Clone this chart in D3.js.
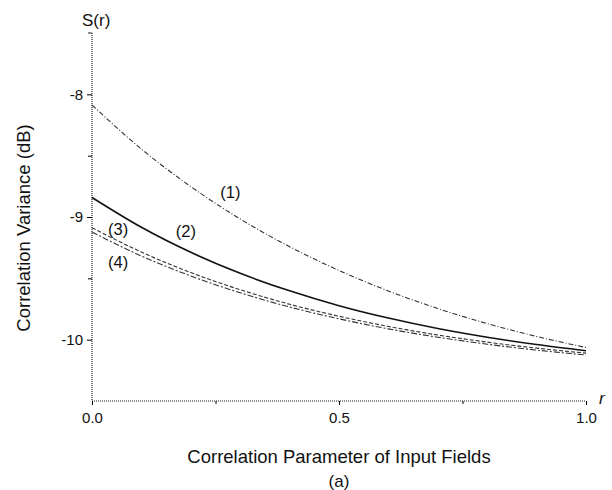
<!DOCTYPE html>
<html>
<head>
<meta charset="utf-8">
<script src="https://cdn.jsdelivr.net/npm/d3@7"></script>
<style>
  body { margin: 0; background: #fff; }
  text { font-family: "Liberation Sans", Arial, sans-serif; fill: #111; }
</style>
</head>
<body>
<div id="vis"></div>
<script>
// correlation variance vs correlation parameter
var rValues = [0, 0.1, 0.2, 0.3, 0.4, 0.5, 0.6, 0.7, 0.8, 0.9, 1.0];
var curve1 = [-8.087, -8.446, -8.752, -9.016, -9.242, -9.436, -9.603, -9.746, -9.869, -9.974, -10.064];
var curve2 = [-8.841, -9.084, -9.288, -9.459, -9.602, -9.723, -9.824, -9.909, -9.980, -10.040, -10.090];
var curve3 = [-9.087, -9.286, -9.453, -9.593, -9.711, -9.809, -9.892, -9.962, -10.020, -10.069, -10.110];
var curve4 = [-9.123, -9.318, -9.481, -9.618, -9.734, -9.830, -9.912, -9.980, -10.037, -10.085, -10.125];
var curveNames = ["(1)", "(2)", "(3)", "(4)"];
var xTicks = [0, 0.5, 1.0];
var xMinor = [0.25, 0.75];
var yTicks = [-8, -9, -10];
var yMinor = [-8.5, -9.5];

var width = 612;
var height = 490;

var svg = d3.select("#vis")
            .append("svg")
            .attr("width", width)
            .attr("height", height);

var x = d3.scaleLinear()
        .domain([0, 1])
        .range([92, 586]);

var y = d3.scaleLinear()
        .domain([-10.5, -7.5])
        .range([401, 33]);

// axes lines are dotted in the original
svg.append("line")
        .attr("x1", x(0)).attr("x2", x(0))
        .attr("y1", y(-7.5)).attr("y2", y(-10.5))
        .attr("stroke", "#222")
        .attr("stroke-width", 1.2)
        .attr("stroke-dasharray", "1,1");

svg.append("line")
        .attr("x1", x(0)).attr("x2", x(1))
        .attr("y1", y(-10.5)).attr("y2", y(-10.5))
        .attr("stroke", "#222")
        .attr("stroke-width", 1.2)
        .attr("stroke-dasharray", "1,1");

const xAxis = d3.axisBottom(x)
        .tickValues(xTicks)
        .tickFormat(d3.format(".1f"))
        .tickSize(4)
        .tickPadding(7);

var gx = svg.append("g")
        .attr("transform", `translate(0, ${y(-10.5)})`)
        .call(xAxis);
gx.select(".domain").remove();
gx.selectAll("text").style("font-size", "15px").attr("fill", "#111");

svg.append("g")
        .attr("transform", `translate(0, ${y(-10.5)})`)
        .call(d3.axisBottom(x).tickValues(xMinor).tickSize(3).tickFormat(""))
        .select(".domain").remove();

const yAxis = d3.axisLeft(y)
        .tickValues(yTicks)
        .tickFormat(function(d) { return String(d); })
        .tickSize(5)
        .tickPadding(4);

var gy = svg.append("g")
        .attr("transform", `translate(${x(0)}, 0)`)
        .call(yAxis);
gy.select(".domain").remove();
gy.selectAll("text").style("font-size", "15px").attr("fill", "#111");

svg.append("g")
        .attr("transform", `translate(${x(0)}, 0)`)
        .call(d3.axisLeft(y).tickValues(yMinor).tickSize(4).tickFormat(""))
        .select(".domain").remove();

// top end tick of y axis
svg.append("line")
        .attr("x1", x(0) - 4).attr("x2", x(0))
        .attr("y1", y(-7.5)).attr("y2", y(-7.5))
        .attr("stroke", "#222");

var line = d3.line()
        .x(function(d, i) { return x(rValues[i]); })
        .y(function(d) { return y(d); })
        .curve(d3.curveMonotoneX);

var series = [
  { values: curve1, dash: "5,2,1,2", w: 1.1, color: "#333" },
  { values: curve2, dash: null, w: 1.6, color: "#111" },
  { values: curve3, dash: "4,2", w: 1.1, color: "#333" },
  { values: curve4, dash: "6,2,2,2", w: 1.1, color: "#333" }
];

series.forEach(function(s) {
  svg.append("path")
        .datum(s.values)
        .attr("d", line)
        .attr("fill", "none")
        .attr("stroke", s.color)
        .attr("stroke-width", s.w)
        .attr("stroke-dasharray", s.dash);
});

// curve labels placed near their curves
var labelPos = [[0.28, -8.8], [0.19, -9.12], [0.053, -9.1], [0.053, -9.37]];
curveNames.forEach(function(name, i) {
  svg.append("text")
        .attr("x", x(labelPos[i][0]))
        .attr("y", y(labelPos[i][1]))
        .attr("text-anchor", "middle")
        .attr("dy", "0.35em")
        .style("font-size", "16.5px")
        .text(name);
});

svg.append("text")
        .attr("x", 82)
        .attr("y", 26)
        .style("font-size", "17px")
        .text("S(r)");

svg.append("text")
        .attr("x", 599)
        .attr("y", 404)
        .style("font-size", "17px")
        .style("font-style", "italic")
        .text("r");

svg.append("text")
        .attr("transform", "translate(30, 228) rotate(-90)")
        .attr("text-anchor", "middle")
        .style("font-size", "18.5px")
        .text("Correlation Variance (dB)");

svg.append("text")
        .attr("x", 339)
        .attr("y", 463)
        .attr("text-anchor", "middle")
        .style("font-size", "18.5px")
        .text("Correlation Parameter of Input Fields");

svg.append("text")
        .attr("x", 339)
        .attr("y", 487)
        .attr("text-anchor", "middle")
        .style("font-size", "17px")
        .text("(a)");
</script>
</body>
</html>
